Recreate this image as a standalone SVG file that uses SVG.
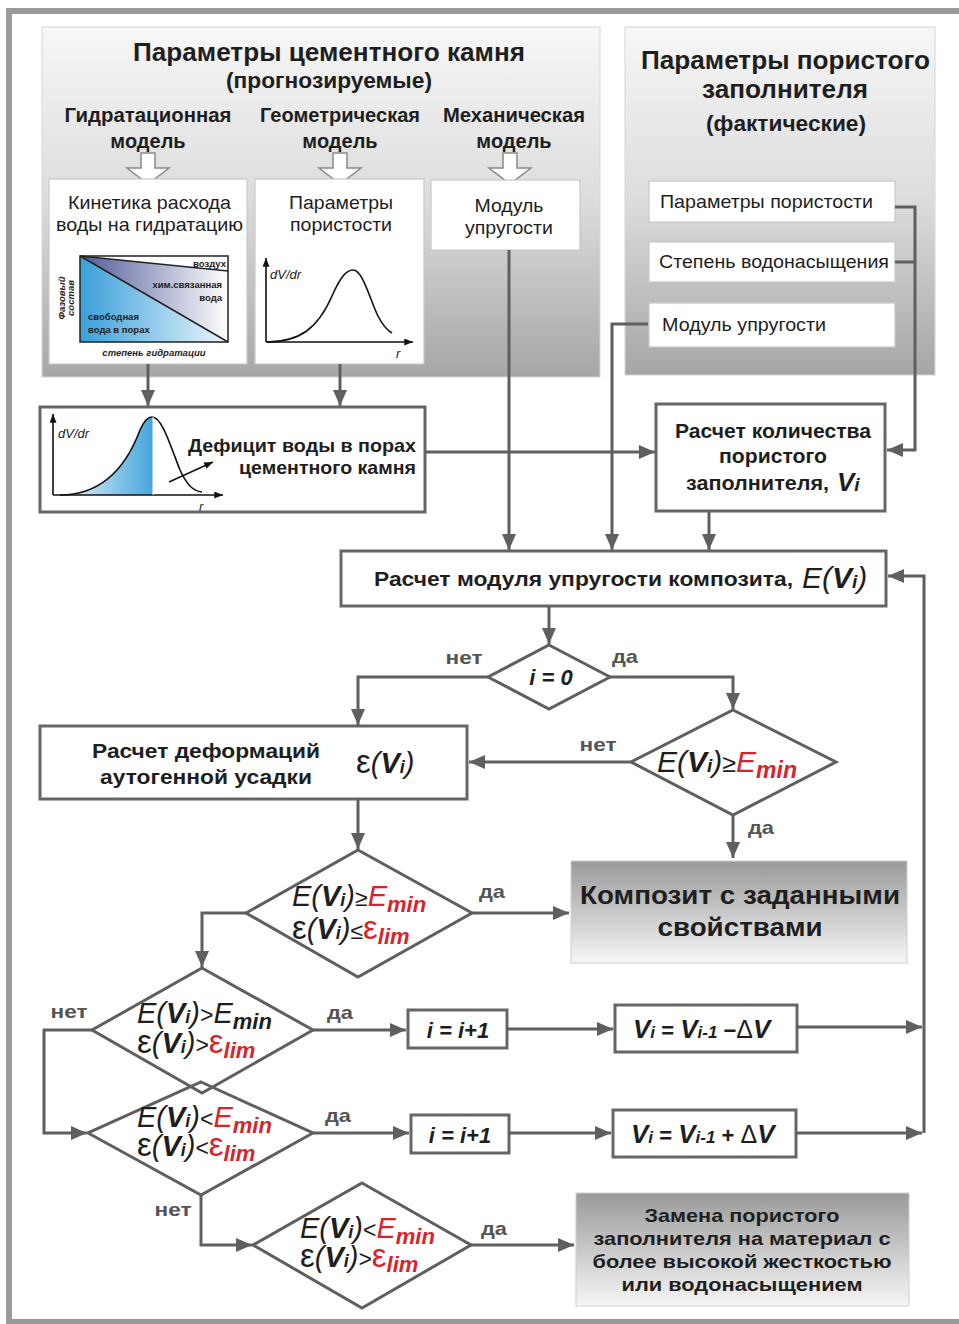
<svg xmlns="http://www.w3.org/2000/svg" width="959" height="1324" viewBox="0 0 959 1324">
<defs>
<linearGradient id="panel" x1="0" y1="0" x2="0" y2="1"><stop offset="0" stop-color="#f7f7f7"/><stop offset="0.5" stop-color="#dcdcdc"/><stop offset="1" stop-color="#a6a6a6"/></linearGradient>
<linearGradient id="result" x1="0" y1="0" x2="0" y2="1"><stop offset="0" stop-color="#9a9a9a"/><stop offset="1" stop-color="#f6f6f6"/></linearGradient>
<linearGradient id="freeW" gradientUnits="userSpaceOnUse" x1="80" y1="0" x2="228" y2="0"><stop offset="0" stop-color="#3a9fd9"/><stop offset="1" stop-color="#eef7fc"/></linearGradient>
<linearGradient id="chemW" gradientUnits="userSpaceOnUse" x1="80" y1="0" x2="228" y2="0"><stop offset="0" stop-color="#4f5b96"/><stop offset="1" stop-color="#ffffff"/></linearGradient>
<linearGradient id="defW" gradientUnits="userSpaceOnUse" x1="60" y1="0" x2="153" y2="0"><stop offset="0" stop-color="#eef7fc"/><stop offset="1" stop-color="#45a5dc"/></linearGradient>
<marker id="ah" viewBox="0 0 16 14" refX="16" refY="7" markerWidth="16" markerHeight="14" markerUnits="userSpaceOnUse" orient="auto"><path d="M0,0 L16,7 L0,14 Z" fill="#5f5f5f"/></marker>
<marker id="sa" viewBox="0 0 10 8" refX="10" refY="4" markerWidth="9" markerHeight="7" markerUnits="userSpaceOnUse" orient="auto"><path d="M0,0 L10,4 L0,8 Z" fill="#111"/></marker>
<style>
text{font-family:"Liberation Sans",Arial,sans-serif;fill:#1e1e1e}
.b{font-weight:bold}
.h1{font-size:25px;font-weight:bold}
.h2{font-size:20px;font-weight:bold}
.h3{font-size:22px;font-weight:bold}
.reg{font-size:19px}
.box{fill:#fff;stroke:#666;stroke-width:3}
.wbox{fill:#fff;stroke:#c8c8c8;stroke-width:1.2}
.lbl{font-size:19px;font-weight:bold;fill:#555}
.conn path{fill:none;stroke:#5f5f5f;stroke-width:3}
.dia{fill:#fff;stroke:#5f5f5f;stroke-width:3}
.red{fill:#d9232a}
.bi{font-weight:bold;font-style:italic}
.it{font-style:italic}
.ax{fill:none;stroke:#111;stroke-width:1.6}
.small{font-size:9.5px;font-weight:bold}
.f{font-size:29px}
</style>
</defs>
<rect x="0" y="0" width="959" height="1324" fill="#fff"/>
<rect x="9" y="11" width="960" height="1311" fill="none" stroke="#9a9a9a" stroke-width="6"/>

<g id="panel-cement">
<rect x="42" y="27" width="558" height="350" fill="url(#panel)" stroke="#d6d6d6" stroke-width="1"/>
<text class="h1" x="329" y="61" text-anchor="middle" textLength="392" lengthAdjust="spacingAndGlyphs">Параметры цементного камня</text>
<text class="h3" x="329" y="88" text-anchor="middle" textLength="206" lengthAdjust="spacingAndGlyphs">(прогнозируемые)</text>
<text class="h2" x="148" y="122" text-anchor="middle" textLength="167" lengthAdjust="spacingAndGlyphs">Гидратационная</text>
<text class="h2" x="148" y="148" text-anchor="middle">модель</text>
<text class="h2" x="340" y="122" text-anchor="middle" textLength="160" lengthAdjust="spacingAndGlyphs">Геометрическая</text>
<text class="h2" x="340" y="148" text-anchor="middle">модель</text>
<text class="h2" x="514" y="122" text-anchor="middle" textLength="142" lengthAdjust="spacingAndGlyphs">Механическая</text>
<text class="h2" x="514" y="148" text-anchor="middle">модель</text>
<path d="M141,153 H155 V168 H169 L148,184 L127,168 H141 Z" fill="#fff" stroke="#8a8a8a" stroke-width="1.5"/>
<path d="M333,153 H347 V168 H361 L340,184 L319,168 H333 Z" fill="#fff" stroke="#8a8a8a" stroke-width="1.5"/>
<path d="M503,153 H517 V168 H531 L510,184 L489,168 H503 Z" fill="#fff" stroke="#8a8a8a" stroke-width="1.5"/>
</g>

<g id="node-kinetics">
<rect class="wbox" x="49" y="179" width="198" height="185"/>
<text class="reg" x="149.5" y="209" text-anchor="middle" textLength="163" lengthAdjust="spacingAndGlyphs">Кинетика расхода</text>
<text class="reg" x="149.5" y="231" text-anchor="middle" textLength="187" lengthAdjust="spacingAndGlyphs">воды на гидратацию</text>
<polygon points="80,256 228,342 80,342" fill="url(#freeW)"/>
<polygon points="80,256 228,271 228,342" fill="url(#chemW)"/>
<polygon points="80,256 228,256 228,271" fill="#fff"/>
<rect x="80" y="256" width="148" height="86" fill="none" stroke="#222" stroke-width="1.5"/>
<path d="M80,256 L228,342 M80,256 L228,271" stroke="#222" stroke-width="1.5" fill="none"/>
<text class="small" x="226" y="267" text-anchor="end">воздух</text>
<text class="small" x="222" y="288" text-anchor="end">хим.связанная</text>
<text class="small" x="222" y="301" text-anchor="end">вода</text>
<text class="small" x="88" y="320">свободная</text>
<text class="small" x="88" y="333">вода в порах</text>
<text class="small" font-style="italic" transform="translate(65,298) rotate(-90)" text-anchor="middle">Фазовый</text>
<text class="small" font-style="italic" transform="translate(74,298) rotate(-90)" text-anchor="middle">состав</text>
<text class="small" font-style="italic" font-size="10px" x="154" y="356" text-anchor="middle">степень гидратации</text>
</g>

<g id="node-porosity-model">
<rect class="wbox" x="255" y="179" width="169" height="185"/>
<text class="reg" x="341" y="209" text-anchor="middle" textLength="104" lengthAdjust="spacingAndGlyphs">Параметры</text>
<text class="reg" x="341" y="231" text-anchor="middle" textLength="102" lengthAdjust="spacingAndGlyphs">пористости</text>
<path class="ax" d="M266,342 V258" marker-end="url(#sa)"/>
<path class="ax" d="M266,342 H413" marker-end="url(#sa)"/>
<path class="ax" d="M267,342 C300,342 318,328 332,296 C340,278 346,270 353,270 C363,270 370,300 378,316 C383,326 387,330 392,333"/>
<text x="270" y="279" font-size="13px" font-style="italic">dV/dr</text>
<text x="396" y="358" font-size="13px" font-style="italic">r</text>
</g>

<g id="node-mech-model">
<rect class="wbox" x="431" y="180" width="149" height="70"/>
<text class="reg" x="509" y="212" text-anchor="middle" textLength="69" lengthAdjust="spacingAndGlyphs">Модуль</text>
<text class="reg" x="509" y="234" text-anchor="middle" textLength="88" lengthAdjust="spacingAndGlyphs">упругости</text>
</g>

<g id="panel-aggregate">
<rect x="625" y="27" width="310" height="348" fill="url(#panel)" stroke="#d6d6d6" stroke-width="1"/>
<text class="h1" x="785.5" y="69" text-anchor="middle" textLength="289" lengthAdjust="spacingAndGlyphs">Параметры пористого</text>
<text class="h1" x="785" y="98" text-anchor="middle" textLength="166" lengthAdjust="spacingAndGlyphs">заполнителя</text>
<text class="h3" x="786" y="131" text-anchor="middle" textLength="160" lengthAdjust="spacingAndGlyphs">(фактические)</text>
</g>
<g id="node-agg-porosity">
<rect class="wbox" x="649" y="181" width="246" height="41"/>
<text class="reg" x="660" y="208" textLength="213" lengthAdjust="spacingAndGlyphs">Параметры пористости</text>
</g>
<g id="node-agg-saturation">
<rect class="wbox" x="649" y="242" width="246" height="40"/>
<text class="reg" x="659" y="268" textLength="230" lengthAdjust="spacingAndGlyphs">Степень водонасыщения</text>
</g>
<g id="node-agg-modulus">
<rect class="wbox" x="649" y="303" width="246" height="44"/>
<text class="reg" x="662" y="331" textLength="164" lengthAdjust="spacingAndGlyphs">Модуль упругости</text>
</g>

<g id="node-deficit">
<rect class="box" x="40" y="407" width="385" height="105"/>
<path d="M60,495 C100,495 125,470 140,430 C144,421 148,417 152,417 L153,417 L153,495 Z" fill="url(#defW)"/>
<path class="ax" d="M53,495 V414" marker-end="url(#sa)"/>
<path class="ax" d="M53,495 H223" marker-end="url(#sa)"/>
<path class="ax" d="M60,495 C100,495 125,470 140,430 C144,421 148,417 152,417 C162,417 170,445 180,470 C187,485 193,491 202,492"/>
<path d="M153,417 V495" stroke="#fff" stroke-width="1" fill="none"/>
<path d="M169,482 L213,462" stroke="#111" stroke-width="1.5" fill="none" marker-end="url(#sa)"/>
<text x="58" y="438" font-size="13px" font-style="italic">dV/dr</text>
<text x="199" y="511" font-size="13px" font-style="italic">r</text>
<text class="b" font-size="19px" x="416" y="452" text-anchor="end" textLength="228" lengthAdjust="spacingAndGlyphs">Дефицит воды в порах</text>
<text class="b" font-size="19px" x="416" y="474" text-anchor="end" textLength="177" lengthAdjust="spacingAndGlyphs">цементного камня</text>
</g>

<g id="node-calc-amount">
<rect class="box" x="656" y="404" width="229" height="107"/>
<text class="b" font-size="20px" x="773" y="438" text-anchor="middle" textLength="196" lengthAdjust="spacingAndGlyphs">Расчет количества</text>
<text class="b" font-size="20px" x="773" y="463" text-anchor="middle" textLength="108" lengthAdjust="spacingAndGlyphs">пористого</text>
<text class="b" font-size="20px" x="686" y="490" textLength="143" lengthAdjust="spacingAndGlyphs">заполнителя,</text>
<text x="837" y="491"><tspan class="bi" font-size="26px">V</tspan><tspan class="bi" font-size="19px">i</tspan></text>
</g>

<g id="node-calc-E">
<rect class="box" x="341" y="551" width="545" height="55"/>
<text class="b" font-size="20px" x="374" y="586" textLength="419" lengthAdjust="spacingAndGlyphs">Расчет модуля упругости композита,</text>
<text x="802" y="588" font-size="30px"><tspan class="it">E(</tspan><tspan class="bi">V</tspan><tspan class="bi" font-size="19px">i</tspan><tspan class="it">)</tspan></text>
</g>

<g id="node-i0">
<polygon class="dia" points="549,645 610,677 549,709 488,677"/>
<text class="bi" font-size="22px" x="551" y="685" text-anchor="middle">i = 0</text>
</g>

<g id="node-Emin">
<polygon class="dia" points="733,710 836,762 733,815 631,762"/>
<text x="657" y="772" font-size="30px"><tspan class="it">E(</tspan><tspan class="bi">V</tspan><tspan class="bi" font-size="19px">i</tspan><tspan class="it">)</tspan><tspan font-size="25px">≥</tspan><tspan class="red it">E</tspan><tspan class="red bi" font-size="23px" dy="6">min</tspan></text>
</g>

<g id="node-deform">
<rect class="box" x="40" y="726" width="427" height="73"/>
<text class="b" font-size="20px" x="206" y="758" text-anchor="middle" textLength="228" lengthAdjust="spacingAndGlyphs">Расчет деформаций</text>
<text class="b" font-size="20px" x="206" y="784" text-anchor="middle" textLength="212" lengthAdjust="spacingAndGlyphs">аутогенной усадки</text>
<text x="356" y="773" class="f"><tspan font-size="33px">ε</tspan><tspan class="it">(</tspan><tspan class="bi">V</tspan><tspan class="bi" font-size="18px">i</tspan><tspan class="it">)</tspan></text>
</g>

<g id="node-result">
<rect x="571" y="861" width="336" height="102" fill="url(#result)" stroke="#cfcfcf" stroke-width="1"/>
<text class="b" font-size="26px" x="740" y="904" text-anchor="middle" textLength="320" lengthAdjust="spacingAndGlyphs">Композит с заданными</text>
<text class="b" font-size="26px" x="740" y="936" text-anchor="middle" textLength="165" lengthAdjust="spacingAndGlyphs">свойствами</text>
</g>

<g id="node-check1">
<polygon class="dia" points="358,850 472,913 358,977 246,913"/>
<text x="292" y="906" class="f"><tspan class="it">E(</tspan><tspan class="bi">V</tspan><tspan class="bi" font-size="18px">i</tspan><tspan class="it">)</tspan><tspan font-size="23px">≥</tspan><tspan class="red it">E</tspan><tspan class="red bi" font-size="22px" dy="6">min</tspan></text>
<text x="292" y="939" class="f"><tspan font-size="33px">ε</tspan><tspan class="it">(</tspan><tspan class="bi">V</tspan><tspan class="bi" font-size="18px">i</tspan><tspan class="it">)</tspan><tspan font-size="23px">≤</tspan><tspan class="red" font-size="33px">ε</tspan><tspan class="red bi" font-size="22px" dy="5">lim</tspan></text>
</g>

<g id="node-check2">
<polygon class="dia" points="202,968 313,1030 202,1093 92,1030"/>
<text x="137" y="1023" class="f"><tspan class="it">E(</tspan><tspan class="bi">V</tspan><tspan class="bi" font-size="18px">i</tspan><tspan class="it">)</tspan><tspan font-size="23px">&gt;</tspan><tspan class="it">E</tspan><tspan class="bi" font-size="22px" dy="6">min</tspan></text>
<text x="137" y="1053" class="f"><tspan font-size="33px">ε</tspan><tspan class="it">(</tspan><tspan class="bi">V</tspan><tspan class="bi" font-size="18px">i</tspan><tspan class="it">)</tspan><tspan font-size="23px">&gt;</tspan><tspan class="red" font-size="33px">ε</tspan><tspan class="red bi" font-size="22px" dy="5">lim</tspan></text>
</g>

<g id="node-check3">
<polygon class="dia" points="201,1082 313,1133 201,1195 88,1133" fill-opacity="0"/>
<text x="137" y="1127" class="f"><tspan class="it">E(</tspan><tspan class="bi">V</tspan><tspan class="bi" font-size="18px">i</tspan><tspan class="it">)</tspan><tspan font-size="23px">&lt;</tspan><tspan class="red it">E</tspan><tspan class="red bi" font-size="22px" dy="6">min</tspan></text>
<text x="137" y="1156" class="f"><tspan font-size="33px">ε</tspan><tspan class="it">(</tspan><tspan class="bi">V</tspan><tspan class="bi" font-size="18px">i</tspan><tspan class="it">)</tspan><tspan font-size="23px">&lt;</tspan><tspan class="red" font-size="33px">ε</tspan><tspan class="red bi" font-size="22px" dy="5">lim</tspan></text>
</g>

<g id="node-inc1">
<rect class="box" x="408" y="1010" width="99" height="38"/>
<text class="bi" font-size="22px" x="458" y="1038" text-anchor="middle">i = i+1</text>
</g>
<g id="node-dec">
<rect class="box" x="615" y="1005" width="182" height="47"/>
<text x="633" y="1038" class="b" font-size="22px"><tspan class="bi" font-size="26px">V</tspan><tspan class="bi" font-size="17px">i</tspan> = <tspan class="bi" font-size="26px">V</tspan><tspan class="bi" font-size="17px">i-1</tspan> −<tspan font-weight="normal" font-size="25px">Δ</tspan><tspan class="bi" font-size="26px">V</tspan></text>
</g>
<g id="node-inc2">
<rect class="box" x="411" y="1115" width="98" height="38"/>
<text class="bi" font-size="22px" x="460" y="1143" text-anchor="middle">i = i+1</text>
</g>
<g id="node-inc">
<rect class="box" x="613" y="1110" width="183" height="47"/>
<text x="631" y="1143" class="b" font-size="22px"><tspan class="bi" font-size="26px">V</tspan><tspan class="bi" font-size="17px">i</tspan> = <tspan class="bi" font-size="26px">V</tspan><tspan class="bi" font-size="17px">i-1</tspan> + <tspan font-weight="normal" font-size="25px">Δ</tspan><tspan class="bi" font-size="26px">V</tspan></text>
</g>

<g id="node-check4">
<polygon class="dia" points="362,1183 471,1245 362,1308 253,1245"/>
<text x="300" y="1238" class="f"><tspan class="it">E(</tspan><tspan class="bi">V</tspan><tspan class="bi" font-size="18px">i</tspan><tspan class="it">)</tspan><tspan font-size="23px">&lt;</tspan><tspan class="red it">E</tspan><tspan class="red bi" font-size="22px" dy="6">min</tspan></text>
<text x="300" y="1267" class="f"><tspan font-size="33px">ε</tspan><tspan class="it">(</tspan><tspan class="bi">V</tspan><tspan class="bi" font-size="18px">i</tspan><tspan class="it">)</tspan><tspan font-size="23px">&gt;</tspan><tspan class="red" font-size="33px">ε</tspan><tspan class="red bi" font-size="22px" dy="5">lim</tspan></text>
</g>

<g id="node-replace">
<rect x="576" y="1193" width="333" height="113" fill="url(#result)" stroke="#cfcfcf" stroke-width="1"/>
<text class="b" font-size="19px" x="742" y="1222" text-anchor="middle" textLength="195" lengthAdjust="spacingAndGlyphs">Замена пористого</text>
<text class="b" font-size="19px" x="742" y="1245" text-anchor="middle" textLength="297" lengthAdjust="spacingAndGlyphs">заполнителя на материал с</text>
<text class="b" font-size="19px" x="742" y="1268" text-anchor="middle" textLength="299" lengthAdjust="spacingAndGlyphs">более высокой жесткостью</text>
<text class="b" font-size="19px" x="742" y="1291" text-anchor="middle" textLength="241" lengthAdjust="spacingAndGlyphs">или водонасыщением</text>
</g>

<g id="connectors" class="conn">
<path d="M148,364 V406" marker-end="url(#ah)"/>
<path d="M340,364 V406" marker-end="url(#ah)"/>
<path d="M509,250 V550" marker-end="url(#ah)"/>
<path d="M648,324 H612 V550" marker-end="url(#ah)"/>
<path d="M709,511 V550" marker-end="url(#ah)"/>
<path d="M425,452 H655" marker-end="url(#ah)"/>
<path d="M895,207 H915 V450 H887" marker-end="url(#ah)"/>
<path d="M895,262 H915"/>
<path d="M549,606 V644" marker-end="url(#ah)"/>
<path d="M488,677 H358 V725" marker-end="url(#ah)"/>
<path d="M610,677 H733 V709" marker-end="url(#ah)"/>
<path d="M631,762 H469" marker-end="url(#ah)"/>
<path d="M733,815 V858" marker-end="url(#ah)"/>
<path d="M358,799 V849" marker-end="url(#ah)"/>
<path d="M472,913 H569" marker-end="url(#ah)"/>
<path d="M246,913 H202 V967" marker-end="url(#ah)"/>
<path d="M92,1030 H44 V1133 H87" marker-end="url(#ah)"/>
<path d="M313,1030 H406" marker-end="url(#ah)"/>
<path d="M507,1029 H613" marker-end="url(#ah)"/>
<path d="M797,1027 H922" marker-end="url(#ah)"/>
<path d="M313,1133 H409" marker-end="url(#ah)"/>
<path d="M509,1133 H611" marker-end="url(#ah)"/>
<path d="M796,1133 H922" marker-end="url(#ah)"/>
<path d="M924,1133 V576 H888" marker-end="url(#ah)"/>
<path d="M201,1195 V1245 H252" marker-end="url(#ah)"/>
<path d="M471,1245 H574" marker-end="url(#ah)"/>
</g>

<g id="labels">
<text class="lbl" x="464" y="664" text-anchor="middle" textLength="37" lengthAdjust="spacingAndGlyphs">нет</text>
<text class="lbl" x="625" y="663" text-anchor="middle" textLength="26" lengthAdjust="spacingAndGlyphs">да</text>
<text class="lbl" x="598" y="751" text-anchor="middle" textLength="37" lengthAdjust="spacingAndGlyphs">нет</text>
<text class="lbl" x="761" y="834" text-anchor="middle" textLength="26" lengthAdjust="spacingAndGlyphs">да</text>
<text class="lbl" x="492" y="898" text-anchor="middle" textLength="26" lengthAdjust="spacingAndGlyphs">да</text>
<text class="lbl" x="69" y="1018" text-anchor="middle" textLength="37" lengthAdjust="spacingAndGlyphs">нет</text>
<text class="lbl" x="340" y="1019" text-anchor="middle" textLength="26" lengthAdjust="spacingAndGlyphs">да</text>
<text class="lbl" x="338" y="1122" text-anchor="middle" textLength="26" lengthAdjust="spacingAndGlyphs">да</text>
<text class="lbl" x="173" y="1216" text-anchor="middle" textLength="37" lengthAdjust="spacingAndGlyphs">нет</text>
<text class="lbl" x="494" y="1235" text-anchor="middle" textLength="26" lengthAdjust="spacingAndGlyphs">да</text>
</g>
</svg>
